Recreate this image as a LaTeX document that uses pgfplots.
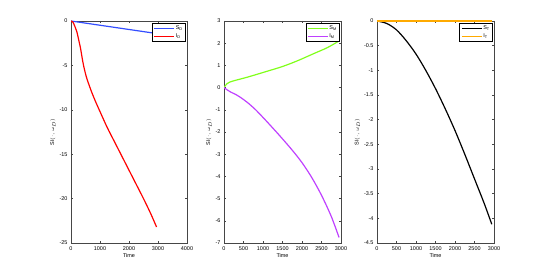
\documentclass[border=0pt]{standalone}
\usepackage{pgfplots}
\pgfplotsset{compat=1.18}
\usepackage{fontspec}
\setmainfont{Liberation Sans}
\definecolor{cBlue}{RGB}{51,77,255}
\definecolor{cRed}{RGB}{255,0,0}
\definecolor{cGreen}{RGB}{128,255,26}
\definecolor{cPurple}{RGB}{191,64,255}
\definecolor{cOrange}{RGB}{255,170,0}
\definecolor{axgray}{RGB}{70,70,70}
\begin{document}
\begin{tikzpicture}
\useasboundingbox (0bp,0bp) rectangle (545bp,273bp);
\pgfplotsset{
  every axis/.append style={
    scale only axis, width=116bp, height=222bp, anchor=south west,
    axis line style={axgray}, tick style={axgray, line width=0.4pt},
    tick align=inside, major tick length=2bp,
    font=\fontsize{5.5}{6}\selectfont,
    /pgf/number format/assume math mode=true,
    /pgf/number format/1000 sep={},
    scaled ticks=false,
    xlabel={Time},
    ylabel={SI$(\cdot,\omega_{D})$},
    xlabel style={yshift=4bp},
    ylabel style={yshift=-3bp},
    legend cell align=left,
    legend style={at={(0.985,0.99)}, anchor=north east, draw=black, fill=white,
      font=\fontsize{5.5}{6}\selectfont, inner sep=1.5pt, row sep=1pt,
      nodes={inner sep=0.8pt}},
    legend image code/.code={\draw[#1, line width=1.4pt] (0bp,0bp) -- (20bp,0bp);},
  },
}
% Panel 1
\begin{axis}[at={(71bp,30bp)}, xmin=0, xmax=4000, ymin=-25, ymax=0,
  xtick={0,1000,2000,3000,4000}, ytick={-25,-20,-15,-10,-5,0}]
\addplot[cBlue, line width=1.2pt] coordinates {(0,0) (2950,-1.41)};
\addlegendentry{S\textsubscript{D}}
\addplot[cRed, line width=1.2pt, smooth] coordinates {
(0,0) (60,-0.1) (120,-0.5) (200,-1.2) (250,-1.9) (330,-3.1) (420,-4.8)
(530,-6.3) (700,-7.9) (850,-9.1) (1000,-10.2) (1250,-12.0) (1500,-13.6) (1750,-15.2)
(2000,-16.8) (2250,-18.4) (2500,-20.0) (2750,-21.7) (2950,-23.2)};
\addlegendentry{I\textsubscript{D}}
\end{axis}
% Panel 2
\begin{axis}[at={(224bp,30bp)}, width=117bp, xmin=0, xmax=3000, ymin=-7, ymax=3,
  xtick={0,500,1000,1500,2000,2500,3000}, ytick={-7,-6,-5,-4,-3,-2,-1,0,1,2,3}]
\addplot[cGreen, line width=1.2pt, smooth] coordinates {
(0,0) (40,0.1) (80,0.18) (150,0.25) (300,0.33) (600,0.47) (1000,0.68)
(1500,0.95) (1900,1.22) (2300,1.53) (2650,1.80) (2950,2.1)};
\addlegendentry{S\textsubscript{M}}
\addplot[cPurple, line width=1.2pt, smooth] coordinates {
(0,0) (80,-0.1) (170,-0.2) (300,-0.31) (430,-0.45) (600,-0.67) (800,-0.98)
(1030,-1.4) (1250,-1.82) (1470,-2.25) (1750,-2.82) (2000,-3.38) (2250,-4.05)
(2500,-4.85) (2750,-5.8) (2950,-6.75)};
\addlegendentry{I\textsubscript{M}}
\node[anchor=south west, inner sep=0.5pt] at (axis description cs:0,1) {x 10\textsuperscript{-6}};
\end{axis}
% Panel 3
\begin{axis}[at={(377bp,30bp)}, width=117bp, xmin=0, xmax=3000, ymin=-4.5, ymax=0,
  xtick={0,500,1000,1500,2000,2500,3000},
  ytick={-4.5,-4,-3.5,-3,-2.5,-2,-1.5,-1,-0.5,0}]
\addplot[black, line width=1.2pt, smooth] coordinates {
(0,0) (250,-0.05) (500,-0.18) (750,-0.4) (1000,-0.67) (1250,-1.0)
(1500,-1.37) (1750,-1.78) (2000,-2.22) (2250,-2.7) (2500,-3.2) (2750,-3.7) (2943,-4.12)};
\addlegendentry{S\textsubscript{T}}
\addplot[cOrange, line width=1.2pt] coordinates {(0,0) (2950,0)};
\addlegendentry{I\textsubscript{T}}
\node[anchor=south west, inner sep=0.5pt] at (axis description cs:0,1) {x 10\textsuperscript{-5}};
\end{axis}
\end{tikzpicture}
\end{document}
